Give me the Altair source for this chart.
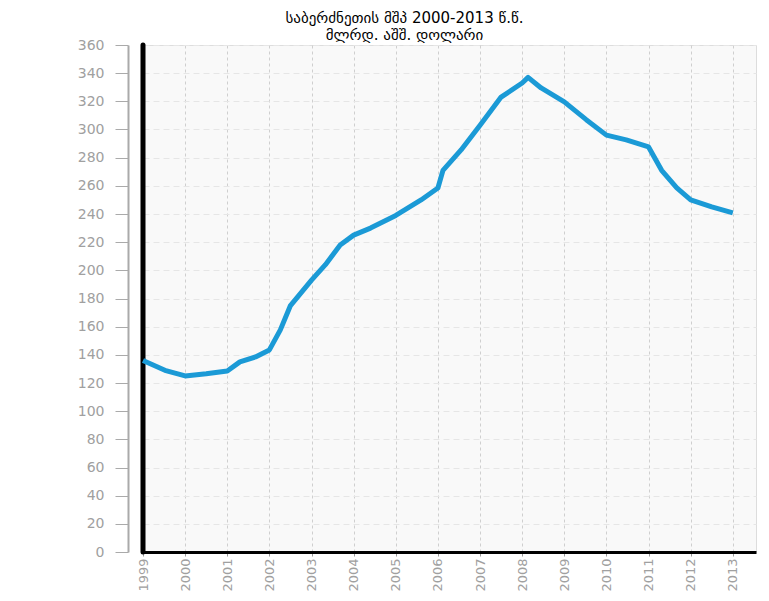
import altair as alt
import pandas as pd

# GDP of Greece, bn USD
years = [1999, 1999.52, 2000, 2000.5, 2001, 2001.3, 2001.67, 2002, 2002.26, 2002.5,
         2003, 2003.33, 2003.68, 2004, 2004.4, 2005, 2005.6, 2006, 2006.12, 2006.55,
         2007, 2007.5, 2008, 2008.14, 2008.45, 2009, 2009.52, 2010, 2010.47, 2011,
         2011.31, 2011.67, 2012, 2012.5, 2013]
gdp = [136, 129, 125, 126.5, 128.5, 135, 138.5, 143.5, 157.7, 175,
       193, 204, 218, 225, 230, 239, 250, 258.5, 271, 285.5,
       303, 323, 333, 337, 329.5, 319.6, 307, 296, 292.6, 287.6,
       271, 258.5, 250, 245, 240.8]
tick_years = list(range(1999, 2014))
y_ticks = list(range(0, 361, 20))
title_lines = ["საბერძნეთის მშპ 2000-2013 წ.წ.", "მლრდ. აშშ. დოლარი"]

df = pd.DataFrame({"year": years, "gdp": gdp})
rule_df = pd.DataFrame({"year": [1999], "gdp": [0], "gdp2": [360]})

x_scale = alt.Scale(domain=[1999, 2013.55], nice=False, zero=False)
y_scale = alt.Scale(domain=[0, 360], nice=False)

x_axis = alt.Axis(values=tick_years, format="d", labelAngle=-90, grid=True,
                  gridDash=[3, 3], gridColor="#cfcfcf", domainColor="black",
                  domainWidth=3, tickColor="#999999", tickSize=4,
                  labelColor="#a0a0a0", labelFontSize=13, labelPadding=2,
                  labelFont="DejaVu Sans", title=None)
y_axis = alt.Axis(values=y_ticks, offset=15, grid=True, gridDash=[6, 4],
                  gridColor="#e6e6e6", domainColor="#aaaaaa", domainWidth=2,
                  tickColor="#aaaaaa", tickSize=13, labelColor="#a0a0a0",
                  labelFontSize=14, labelPadding=11, labelFont="DejaVu Sans",
                  title=None)

x_enc = alt.X("year:Q", scale=x_scale, axis=x_axis)
y_enc = alt.Y("gdp:Q", scale=y_scale, axis=y_axis)

rule = alt.Chart(rule_df).mark_rule(color="black", strokeWidth=5, strokeCap="round").encode(
    x=x_enc, y=y_enc, y2="gdp2:Q"
)

line = alt.Chart(df).mark_line(color="#1b9ad6", strokeWidth=5, strokeJoin="round").encode(
    x=x_enc, y=y_enc
)

chart = alt.layer(rule, line).properties(
    width=613,
    height=507,
    padding={"left": 135, "top": 37, "right": 5, "bottom": 40},
    autosize=alt.AutoSizeParams(type="none"),
    title=alt.TitleParams(title_lines, font="DejaVu Sans", fontSize=15,
                          fontWeight="normal", color="black", anchor="middle",
                          dx=-45, dy=9, offset=4, lineHeight=17),
).configure_view(fill="#f9f9f9", stroke="#dddddd")

chart.save("out.html", embed_options={"renderer": "svg", "actions": False})
